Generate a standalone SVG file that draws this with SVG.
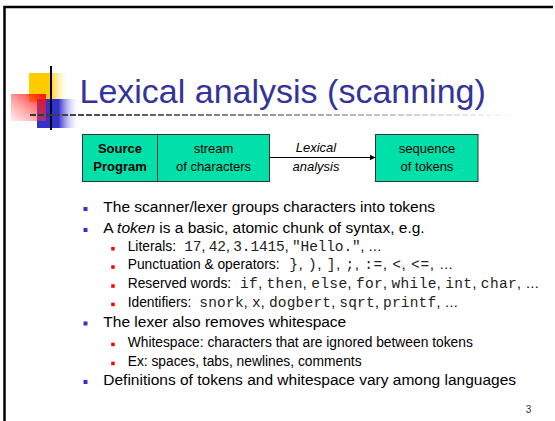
<svg xmlns="http://www.w3.org/2000/svg" width="555" height="421" viewBox="0 0 555 421">
  <style>
    .sans { font-family: "Liberation Sans", Arial, sans-serif; }
    .mono { font-family: "Courier New", "Liberation Mono", monospace; fill: #222222; }
    .title { font-size: 34px; fill: #333399; }
    .box { fill: #00E0A8; stroke: #333333; stroke-width: 1; }
    .boxtext { font-size: 13px; fill: #000; text-anchor: middle; }
    .l1 { font-size: 15.5px; fill: #000; }
    .l2 { font-size: 13.8px; fill: #000; }
    .code { font-size: 13.8px; fill: #000; }
    .code .mono { font-size: 14.5px; }
    .b1 { fill: #3333CC; }
    .b2 { fill: #FF0000; }
  </style>
  <defs>
    <linearGradient id="yellowFade" x1="0" y1="0" x2="1" y2="0">
      <stop offset="0" stop-color="#FFCC00"/>
      <stop offset="0.5" stop-color="#FFCC00"/>
      <stop offset="1" stop-color="#FFFFFF" stop-opacity="0"/>
    </linearGradient>
    <linearGradient id="blueFade" x1="0" y1="0" x2="1" y2="0">
      <stop offset="0" stop-color="#3333CC"/>
      <stop offset="0.5" stop-color="#3333CC"/>
      <stop offset="1" stop-color="#FFFFFF" stop-opacity="0"/>
    </linearGradient>
    <linearGradient id="redFade" x1="1" y1="0" x2="0" y2="1">
      <stop offset="0" stop-color="#FF0000" stop-opacity="0.95"/>
      <stop offset="1" stop-color="#FF6666" stop-opacity="0.12"/>
    </linearGradient>
    <linearGradient id="ruleFade" gradientUnits="userSpaceOnUse" x1="30" y1="0" x2="521" y2="0">
      <stop offset="0" stop-color="#333333"/>
      <stop offset="1" stop-color="#FFFFFF"/>
    </linearGradient>
    <marker id="arrow" markerWidth="7" markerHeight="6" refX="6" refY="3" orient="auto" markerUnits="userSpaceOnUse">
      <path d="M0,0 L6,3 L0,6 Z" fill="#000"/>
    </marker>
  </defs>

  <rect width="555" height="421" fill="#FFFFFF"/>

  <!-- slide frame -->
  <path d="M4.5,421 V7 H553" fill="none" stroke="#000" stroke-width="2.5"/>

  <!-- title ornament -->
  <g id="logo">
    <rect x="29" y="73" width="41" height="29" fill="url(#yellowFade)"/>
    <rect x="37" y="99" width="43" height="29" fill="url(#blueFade)"/>
    <rect x="11" y="94" width="35" height="27" fill="url(#redFade)"/>
    <line x1="51" y1="66" x2="51" y2="130" stroke="#000" stroke-width="2"/>
    <line x1="30" y1="115" x2="521" y2="115" stroke="url(#ruleFade)" stroke-width="2" stroke-dasharray="6 2"/>
  </g>

  <text class="sans title" x="79.5" y="103">Lexical analysis (scanning)</text>

  <!-- flow diagram -->
  <g id="source-program">
    <rect class="box" x="82.5" y="134.5" width="75" height="47"/>
    <text class="sans boxtext" x="120" y="153" font-weight="bold">Source</text>
    <text class="sans boxtext" x="120" y="171" font-weight="bold">Program</text>
  </g>
  <g id="char-stream">
    <rect class="box" x="157.5" y="134.5" width="112" height="47"/>
    <text class="sans boxtext" x="213.5" y="153">stream</text>
    <text class="sans boxtext" x="213.5" y="171">of characters</text>
  </g>
  <g id="token-sequence">
    <rect class="box" x="375.5" y="134.5" width="102.5" height="47"/>
    <text class="sans boxtext" x="427" y="153">sequence</text>
    <text class="sans boxtext" x="427" y="171">of tokens</text>
  </g>
  <g id="connectors">
    <line x1="269.5" y1="157.5" x2="375.5" y2="157.5" stroke="#000" stroke-width="1" marker-end="url(#arrow)"/>
    <text class="sans boxtext" x="316" y="152" font-size="13.8" font-style="italic">Lexical</text>
    <text class="sans boxtext" x="316" y="170.7" font-size="13.8" font-style="italic">analysis</text>
  </g>

  <!-- bullet list -->
  <g id="bullets">
    <rect class="b1" x="83.5" y="207" width="4" height="4"/>
    <text class="sans l1" x="103.3" y="212.3">The scanner/lexer groups characters into tokens</text>

    <rect class="b1" x="83.5" y="228" width="4" height="4"/>
    <text class="sans l1" x="103.3" y="233.3">A <tspan font-style="italic">token</tspan> is a basic, atomic chunk of syntax, e.g.</text>

    <rect class="b2" x="111.2" y="247" width="3.5" height="3.5"/>
    <text class="sans l2" x="127.7" y="251">Literals:</text>
    <text class="sans code" x="184.3" y="251" textLength="197.4" lengthAdjust="spacing"><tspan class="mono">17</tspan>, <tspan class="mono">42</tspan>, <tspan class="mono">3.1415</tspan>, <tspan class="mono">"Hello."</tspan>, …</text>

    <rect class="b2" x="111.2" y="265.3" width="3.5" height="3.5"/>
    <text class="sans l2" x="127.7" y="269.3">Punctuation &amp; operators:</text>
    <text class="sans code" x="289.3" y="269.3" textLength="163.7" lengthAdjust="spacing"><tspan class="mono">}</tspan>, <tspan class="mono">)</tspan>, <tspan class="mono">]</tspan>, <tspan class="mono">;</tspan>, <tspan class="mono">:=</tspan>, <tspan class="mono">&lt;</tspan>, <tspan class="mono">&lt;=</tspan>, …</text>

    <rect class="b2" x="111.2" y="284.3" width="3.5" height="3.5"/>
    <text class="sans l2" x="127.7" y="288.3">Reserved words:</text>
    <text class="sans code" x="240" y="288.3" textLength="299.3" lengthAdjust="spacing"><tspan class="mono">if</tspan>, <tspan class="mono">then</tspan>, <tspan class="mono">else</tspan>, <tspan class="mono">for</tspan>, <tspan class="mono">while</tspan>, <tspan class="mono">int</tspan>, <tspan class="mono">char</tspan>, …</text>

    <rect class="b2" x="111.2" y="302.7" width="3.5" height="3.5"/>
    <text class="sans l2" x="127.7" y="306.7">Identifiers:</text>
    <text class="sans code" x="199.3" y="306.7" textLength="259" lengthAdjust="spacing"><tspan class="mono">snork</tspan>, <tspan class="mono">x</tspan>, <tspan class="mono">dogbert</tspan>, <tspan class="mono">sqrt</tspan>, <tspan class="mono">printf</tspan>, …</text>

    <rect class="b1" x="83.5" y="321.5" width="4" height="4"/>
    <text class="sans l1" x="103.3" y="326.7">The lexer also removes whitespace</text>

    <rect class="b2" x="111.2" y="342.7" width="3.5" height="3.5"/>
    <text class="sans l2" x="127.7" y="346.7">Whitespace: characters that are ignored between tokens</text>

    <rect class="b2" x="111.2" y="361.7" width="3.5" height="3.5"/>
    <text class="sans l2" x="127.7" y="365.7">Ex: spaces, tabs, newlines, comments</text>

    <rect class="b1" x="83.5" y="380" width="4" height="4"/>
    <text class="sans l1" x="103.3" y="385.3">Definitions of tokens and whitespace vary among languages</text>
  </g>

  <text class="sans" x="525.7" y="413.3" font-size="10" fill="#333333">3</text>
</svg>
